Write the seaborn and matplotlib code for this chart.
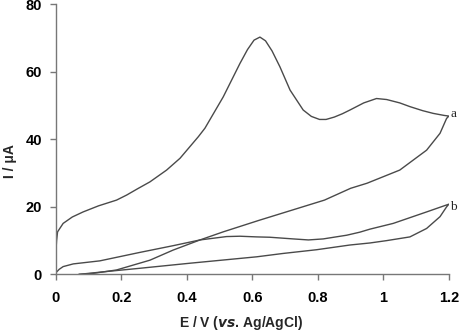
import matplotlib
matplotlib.use("Agg")
import matplotlib.pyplot as plt
import seaborn as sns
import pandas as pd

# Curve a (forward scan then reverse scan)
a_E = [0.0, 0.002, 0.005, 0.022, 0.05, 0.083, 0.13, 0.185, 0.216, 0.25, 0.287, 0.338, 0.379, 0.435,
       0.455, 0.511, 0.562, 0.585, 0.605, 0.623, 0.64, 0.66, 0.684, 0.715, 0.755, 0.78, 0.805, 0.825,
       0.85, 0.875, 0.898, 0.94, 0.979, 1.01, 1.05, 1.081, 1.12, 1.152, 1.185, 1.2,
       1.193, 1.173, 1.132, 1.05, 0.95, 0.9, 0.82, 0.72, 0.62, 0.511, 0.44, 0.358, 0.287, 0.185, 0.114, 0.07]
a_I = [7.0, 10.0, 12.6, 15.1, 17.0, 18.5, 20.3, 22.0, 23.5, 25.4, 27.4, 30.9, 34.4, 40.8,
       43.3, 52.6, 62.5, 66.6, 69.4, 70.3, 69.2, 66.2, 61.5, 54.6, 48.7, 46.8, 45.9, 45.9,
       46.6, 47.6, 48.7, 50.8, 52.1, 51.8, 50.8, 49.7, 48.5, 47.7, 47.1, 46.9,
       46.2, 41.8, 36.8, 30.9, 27.0, 25.5, 22.0, 19.0, 16.0, 12.6, 10.2, 7.2, 4.2, 1.3, 0.3, 0.0]

# Curve b (forward scan then reverse scan)
b_E = [0.0, 0.01, 0.022, 0.053, 0.134, 0.256, 0.358, 0.44, 0.521, 0.562, 0.613, 0.653, 0.725, 0.771,
       0.816, 0.888, 0.928, 0.959, 1.03, 1.132, 1.2,
       1.193, 1.173, 1.132, 1.081, 1.01, 0.959, 0.898, 0.796, 0.694, 0.613, 0.409, 0.256, 0.15, 0.07]
b_I = [0.5, 1.5, 2.3, 3.1, 4.0, 6.5, 8.5, 10.2, 11.2, 11.3, 11.1, 11.0, 10.5, 10.2,
       10.5, 11.6, 12.5, 13.4, 15.1, 18.5, 20.8,
       20.0, 17.1, 13.6, 11.1, 10.0, 9.3, 8.7, 7.3, 6.2, 5.2, 3.3, 1.8, 0.8, 0.0]

x_ticks = [0, 0.2, 0.4, 0.6, 0.8, 1, 1.2]
x_tick_labels = ["0", "0.2", "0.4", "0.6", "0.8", "1", "1.2"]
y_ticks = [0, 20, 40, 60, 80]

sns.set_style("ticks")
plt.rcParams["font.family"] = ["Liberation Sans", "DejaVu Sans"]

fig = plt.figure(figsize=(4.74, 3.35), dpi=100)
ax = fig.add_axes([0.118, 0.181, 0.829, 0.806])

line_color = "#4a4a4a"
df_a = pd.DataFrame({"E": a_E, "I": a_I})
df_b = pd.DataFrame({"E": b_E, "I": b_I})
sns.lineplot(data=df_a, x="E", y="I", sort=False, estimator=None, color=line_color, lw=1.0, ax=ax)
sns.lineplot(data=df_b, x="E", y="I", sort=False, estimator=None, color=line_color, lw=1.0, ax=ax)

ax.set_xlim(0, 1.2)
ax.set_ylim(0, 80)
ax.set_xticks(x_ticks)
ax.set_xticklabels(x_tick_labels)
ax.set_yticks(y_ticks)
for sp in ["top", "right"]:
    ax.spines[sp].set_visible(False)
for sp in ["left", "bottom"]:
    ax.spines[sp].set_color("#777777")
    ax.spines[sp].set_linewidth(1.0)
ax.tick_params(axis="both", direction="out", length=4, width=1.0, color="#777777",
               labelsize=10.5, labelcolor="black")
ax.tick_params(axis="x", pad=8)
ax.tick_params(axis="y", pad=6)
for lab in ax.get_xticklabels() + ax.get_yticklabels():
    lab.set_fontweight("bold")

ax.set_xlabel(r"E / V ($\mathbfit{vs}$. Ag/AgCl)", fontsize=10, fontweight="bold")
ax.set_ylabel("I / μA", fontsize=10, fontweight="bold")
ax.xaxis.set_label_coords(0.47, -0.145)
ax.yaxis.set_label_coords(-0.1, 0.42)

ax.text(1.205, 47.5, "a", fontsize=9.5, family="Liberation Serif", ha="left", va="center",
        clip_on=False)
ax.text(1.205, 20.0, "b", fontsize=9.5, family="Liberation Serif", ha="left", va="center",
        clip_on=False)

fig.savefig("out.png", dpi=100)
